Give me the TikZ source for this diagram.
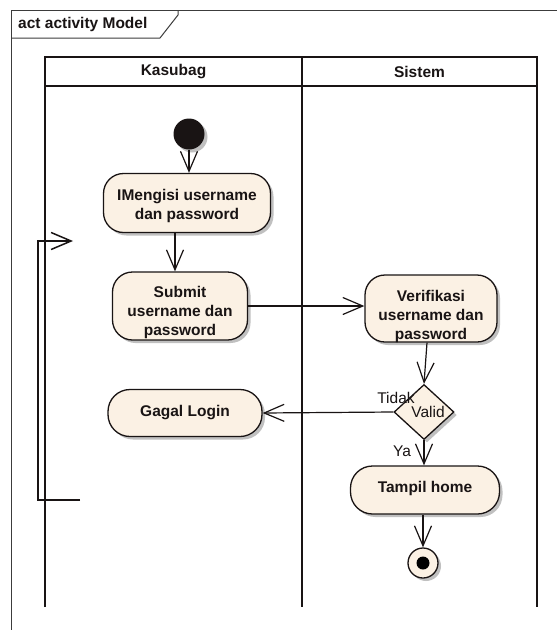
\documentclass[tikz,border=0pt]{standalone}
\usepackage{fontspec}
\setmainfont{Liberation Sans}
\usetikzlibrary{arrows.meta,shapes.geometric,shadows}
\definecolor{actfill}{RGB}{251,241,228}
\definecolor{ink}{RGB}{25,20,20}
\definecolor{framecol}{RGB}{60,60,60}
% lower a text block without changing its reported size
\newcommand\lowered[2]{\raisebox{-#1}[\height][\depth]{#2}}
\newcommand\lines[1]{\begin{tabular}{@{}c@{}}#1\end{tabular}}
\begin{document}
\begin{tikzpicture}[x=1pt,y=-1pt,
  every node/.style={font=\fontsize{15.5}{19}\selectfont, text=ink},
  shade/.style={drop shadow={shadow xshift=3pt,shadow yshift=-3pt,fill=black!35,opacity=.7}},
  act/.style={draw=ink, line width=1.3pt, fill=actfill, rounded corners=20pt,
    inner sep=0pt, align=center, font=\fontsize{15.5}{19}\selectfont\bfseries, shade},
  decision/.style={diamond, draw=ink, line width=1.3pt, fill=actfill, inner sep=0pt,
    minimum width=60pt, minimum height=55pt, shade},
  flow/.style={draw=ink, line width=1.2pt, -{Straight Barb[length=20pt,width=17pt]}},
  lane/.style={draw=ink, line width=2pt},
  guard/.style={inner sep=0pt, font=\fontsize{15.5}{19}\selectfont}
]
\useasboundingbox (0,0) rectangle (557,630);
\fill[white] (0,0) rectangle (557,630);

% diagram frame and its name tag
\draw[framecol, line width=1pt] (11,630) -- (11,10) -- (557,10);
\draw[framecol, line width=1pt] (11,38) -- (160,38) -- (178,15) -- (178,10);
\node[anchor=west, inner sep=0pt, font=\fontsize{15.5}{19}\selectfont\bfseries] (frametitle) at (18,24) {act activity Model};

% swimlanes
\draw[lane] (45,607) -- (45,57) -- (537,57) -- (537,607);
\draw[lane] (45,86) -- (537,86);
\draw[lane] (302,57) -- (302,607);
\node[font=\fontsize{15.5}{19}\selectfont\bfseries] (laneA) at (173.5,72) {Kasubag};
\node[font=\fontsize{15.5}{19}\selectfont\bfseries] (laneB) at (419.5,72) {Sistem};

% start node
\node[circle, fill=ink, minimum size=31pt, inner sep=0pt, shade] (start) at (189,134) {};

% actions
\node[act, minimum width=167pt, minimum height=59pt] (isi) at (187,203)
  {\lowered{3pt}{\lines{IMengisi username\\dan password}}};
\node[act, minimum width=135pt, minimum height=68pt] (submit) at (180,306)
  {\lowered{7pt}{\lines{Submit\\username dan\\password}}};
\node[act, minimum width=132pt, minimum height=67pt] (verif) at (431,308.5)
  {\lowered{8pt}{\lines{Verifikasi\\username dan\\password}}};
\node[decision] (valid) at (424,412) {};
\node[guard] (validtxt) at (428,412) {Valid};
\node[guard] (tidak) at (396,398) {Tidak};
\node[guard] (ya) at (402,451) {Ya};
\node[act, minimum width=154pt, minimum height=47pt, rounded corners=22pt] (gagal) at (185,413)
  {Gagal Login};
\node[act, minimum width=149pt, minimum height=48pt, rounded corners=22pt] (tampil) at (425,490)
  {\lowered{-2pt}{Tampil home}};

% final node
\node[circle, draw=ink, line width=1.3pt, fill=actfill, minimum size=30pt, inner sep=0pt, shade] (end) at (423,563) {};
\node[circle, fill=black, minimum size=13pt, inner sep=0pt] (enddot) at (end.center) {};

% control flows
\draw[flow] (start.south) -- (isi.north -| start.south);
\draw[flow] ([xshift=-12pt]isi.south) -- ([xshift=-5pt]submit.north);
\draw[flow] (submit.east) -- (submit.east -| verif.west);
\draw[flow] ([xshift=-4pt]verif.south) -- (valid.north);
\draw[flow] (valid.west) -- (gagal.east);
\draw[flow] (valid.south) -- (tampil.north -| valid.south);
\draw[flow] (tampil.south -| end.north) -- (end.north);

% loop-back flow along the lane edge
\coordinate (loopstart) at (80,500);
\coordinate (loopcornerlow) at (38,500);
\coordinate (loopcornerhigh) at (38,241);
\coordinate (loopend) at (73,241);
\draw[flow, line width=1.5pt] (loopstart) -- (loopcornerlow) -- (loopcornerhigh) -- (loopend);
\end{tikzpicture}
\end{document}
